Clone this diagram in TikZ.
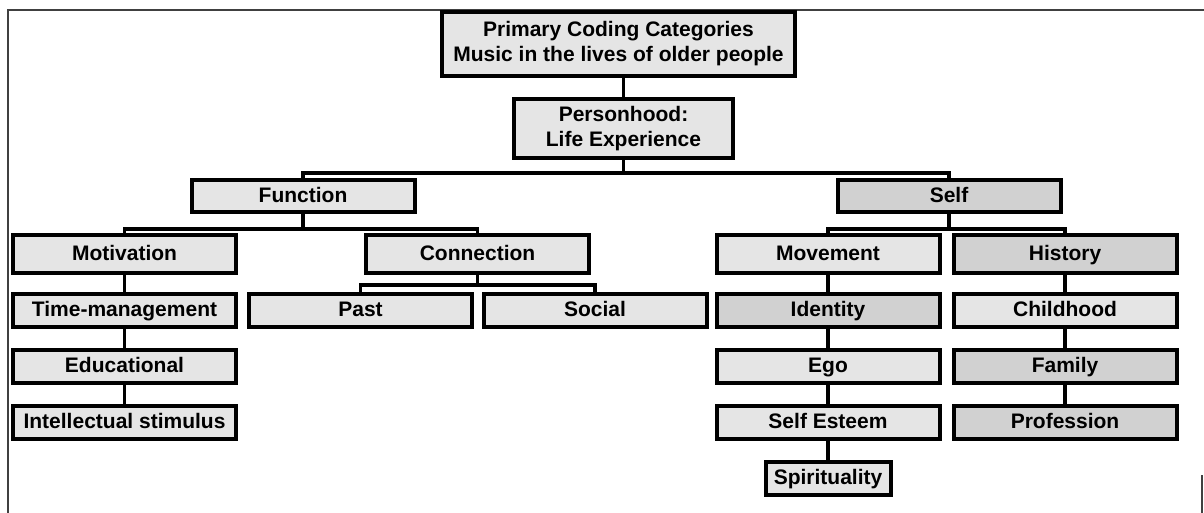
\documentclass[tikz,border=0pt]{standalone}
\usepackage{fontspec}
\setmainfont{Liberation Sans}

\begin{document}
\begin{tikzpicture}[x=0.5pt, y=-0.5pt, node distance=28pt,
  box/.style={draw, line width=2pt, fill=black!10, inner sep=0pt, align=center,
    font=\bfseries\fontsize{10.5}{12.5}\selectfont},
  cat/.style={box, minimum width=111.5pt, minimum height=16.5pt,
    text height=1.6ex, text depth=0.4ex},
  catbig/.style={cat, minimum height=18.75pt},
  catdark/.style={fill=black!18},
  branch/.style={line width=1.8pt},
  pageframe/.style={line width=0.7pt, black!75}]
\useasboundingbox (0,0) rectangle (1204,513);
\draw[pageframe] (1204,10) -- (8,10) -- (8,513);
\draw[pageframe] (1202,475) -- (1202,513);

\node[box, minimum width=176.5pt, minimum height=32pt] (title) at (618.5,44) {Primary Coding Categories\\Music in the lives of older people};
\node[box, minimum width=109.5pt, minimum height=29.5pt] (person) at (623.5,128.5) {Personhood:\\Life Experience};
\node[cat, minimum height=16pt] (func) at (303,196) {Function};
\node[cat, catdark, minimum height=16pt] (self) at (949,196) {Self};
\node[catbig] (motiv) at (124.5,254) {Motivation};
\node[catbig] (conn) at (477.5,254) {Connection};
\node[catbig] (move) at (828,254) {Movement};
\node[catbig, catdark] (hist) at (1065,254) {History};
\node[cat, below of = motiv] (time) {Time-management};
\node[cat, below of = time] (educ) {Educational};
\node[cat, below of = educ] (intel) {Intellectual stimulus};
\node[cat, below of = conn, xshift=-58.5pt] (past) {Past};
\node[cat, below of = conn, xshift=58.75pt] (social) {Social};
\node[cat, catdark, below of = move] (ident) {Identity};
\node[cat, below of = ident] (ego) {Ego};
\node[cat, below of = ego] (esteem) {Self Esteem};
\node[cat, below of = esteem, minimum width=62.5pt] (spirit) {Spirituality};
\node[cat, below of = hist] (child) {Childhood};
\node[cat, catdark, below of = child] (family) {Family};
\node[cat, catdark, below of = family] (prof) {Profession};

\draw[branch] (title.south -| person.north) -- (person.north);
\draw[branch] (person.south) -- ++(0,13) -| (func.north);
\draw[branch] (person.south) -- ++(0,13) -| (self.north);
\draw[branch] (func.south) -- ++(0,15) -| (motiv.north);
\draw[branch] (func.south) -- ++(0,15) -| (conn.north);
\draw[branch] (self.south) -- ++(0,15) -| (move.north);
\draw[branch] (self.south) -- ++(0,15) -| (hist.north);
\draw[branch] (conn.south) -- ++(0,10) -| (past.north);
\draw[branch] (conn.south) -- ++(0,10) -| (social.north);
\draw[branch] (motiv) -- (time);
\draw[branch] (time) -- (educ);
\draw[branch] (educ) -- (intel);
\draw[branch] (move) -- (ident);
\draw[branch] (ident) -- (ego);
\draw[branch] (ego) -- (esteem);
\draw[branch] (esteem) -- (spirit);
\draw[branch] (hist) -- (child);
\draw[branch] (child) -- (family);
\draw[branch] (family) -- (prof);
    %
\end{tikzpicture}
\end{document}
